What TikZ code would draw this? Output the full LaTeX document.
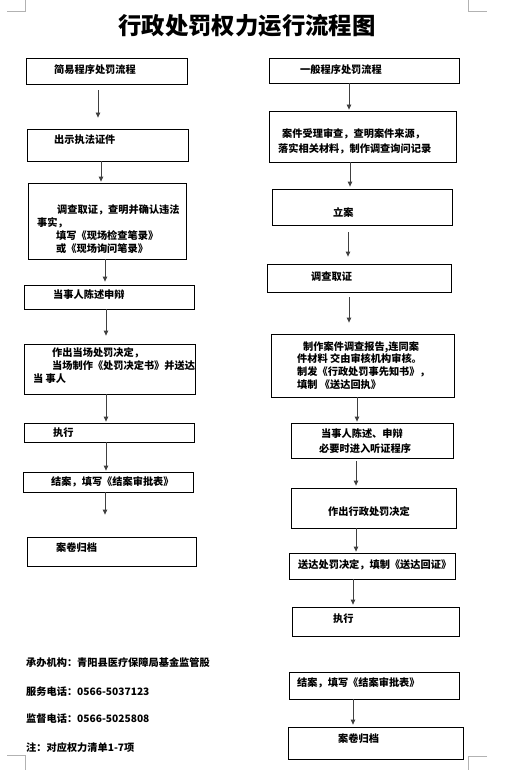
\documentclass[tikz,border=0pt]{standalone}
\usepackage{fontspec}
\setmainfont{Noto Sans CJK SC}
\usetikzlibrary{arrows.meta}
\begin{document}
\begin{tikzpicture}[x=1pt,y=-1pt,
  box/.style={draw=black,line width=0.8pt,inner sep=0pt,minimum width=#1},
  txt/.style={anchor=west,inner sep=0pt,font=\fontsize{10.2}{12}\selectfont\bfseries},
  arr/.style={draw=black!75,line width=0.8pt,-{Triangle[width=4.5pt,length=5pt]}},
  cornermark/.style={draw=black!30,line width=0.5pt}]
\useasboundingbox (0,0) rectangle (509,770);
\fill[white] (0,0) rectangle (509,770);
\newcommand\mybox[5]{\node[box=#4,minimum height=#5] (#1) at (#2,#3) {};}
\newcommand\conn[5]{\coordinate (tmp) at (#3,0);
  \draw[arr,shorten <=#4pt,shorten >=#5pt] (#1.south -| tmp) -- (#2.north -| tmp);}
% corner marks
\draw[cornermark] (25,0) -- (25,11) -- (7,11);
\draw[cornermark] (468,0) -- (468,11) -- (487,11);
\draw[cornermark] (7,755) -- (25,755) -- (25,770);
\draw[cornermark] (487,756) -- (468,756) -- (468,770);
% title
\node[inner sep=0pt,font=\fontsize{23.4}{26}\selectfont\bfseries] (title) at (247,26) {行政处罚权力运行流程图};
% left column
\mybox{L1}{106.5}{71}{161}{26}
\mybox{L2}{107.5}{145}{161}{32}
\mybox{L3}{107}{221}{158}{76}
\mybox{L4}{109}{297}{170}{24}
\mybox{L5}{109.5}{369}{171}{50}
\mybox{L6}{109}{432.5}{170}{19}
\mybox{L7}{108}{482}{170}{20}
\mybox{L8}{111.5}{551.5}{169}{29}
\node[txt] (t1) at (54,70) {简易程序处罚流程};
\node[txt] (t2) at (54,140) {出示执法证件};
\node[txt] (t3a) at (57,210) {调查取证，查明并确认违法};
\node[txt] (t3b) at (37,223) {事实，};
\node[txt] (t3c) at (56,236) {填写《现场检查笔录》};
\node[txt] (t3d) at (56,249) {或《现场询问笔录》};
\node[txt] (t4) at (53,295) {当事人陈述申辩};
\node[txt] (t5a) at (52,353) {作出当场处罚决定，};
\node[txt] (t5b) at (52,366) {当场制作《处罚决定书》并送达};
\node[txt] (t5c) at (33,379) {当 事人};
\node[txt] (t6) at (53,433) {执行};
\node[txt] (t7) at (51,482) {结案，填写《结案审批表》};
\node[txt] (t8) at (56,548) {案卷归档};
\conn{L1}{L2}{98}{6}{11}
\conn{L2}{L3}{101}{0}{1}
\conn{L3}{L4}{105}{0}{3}
\conn{L4}{L5}{106}{0}{8}
\conn{L5}{L6}{106}{0}{1}
\conn{L6}{L7}{106}{0}{1}
\conn{L7}{L8}{105}{0}{22}
% right column
\mybox{R1}{364}{70.5}{190}{25}
\mybox{R2}{362.5}{136.5}{187}{51}
\mybox{R3}{362}{207}{180}{36}
\mybox{R4}{359}{278}{184}{28}
\mybox{R5}{362.5}{365.5}{183}{63}
\mybox{R6}{372}{440.5}{162}{35}
\mybox{R7}{373.5}{508}{165}{40}
\mybox{R8}{372}{566}{166}{26}
\mybox{R9}{375.5}{621.5}{167}{29}
\mybox{R10}{374}{685.5}{170}{27}
\mybox{R11}{375.5}{743}{175}{32}
\node[txt] (r1) at (300,70) {一般程序处罚流程};
\node[txt] (r2a) at (282,134) {案件受理审查，查明案件来源，};
\node[txt] (r2b) at (278,149) {落实相关材料，制作调查询问记录};
\node[txt] (r3) at (333,213) {立案};
\node[txt] (r4) at (311,277) {调查取证};
\node[txt] (r5a) at (303,347) {制作案件调查报告,连同案};
\node[txt] (r5b) at (297,359) {件材料 交由审核机构审核。};
\node[txt] (r5c) at (297,372) {制发《行政处罚事先知书》，};
\node[txt] (r5d) at (297,385) {填制 《送达回执》};
\node[txt] (r6a) at (321,434) {当事人陈述、申辩};
\node[txt] (r6b) at (319,449) {必要时进入听证程序};
\node[txt] (r7) at (328,512) {作出行政处罚决定};
\node[txt] (r8) at (298,565) {送达处罚决定，填制《送达回证》};
\node[txt] (r9) at (333,619) {执行};
\node[txt] (r10) at (297,683) {结案，填写《结案审批表》};
\node[txt] (r11) at (338,739) {案卷归档};
\conn{R1}{R2}{349}{0}{1}
\conn{R2}{R3}{350}{0}{2}
\conn{R3}{R4}{348}{7}{7}
\conn{R4}{R5}{349}{5}{11}
\conn{R5}{R6}{357}{0}{1}
\conn{R6}{R7}{356}{3}{2}
\conn{R7}{R8}{356}{0}{1}
\conn{R8}{R9}{353}{0}{2}
\conn{R10}{R11}{353}{0}{2}
% footer
\node[txt] (f1) at (26,663) {承办机构：青阳县医疗保障局基金监管股};
\node[txt] (f2) at (26,692) {服务电话：0566-5037123};
\node[txt] (f3) at (26,719) {监督电话：0566-5025808};
\node[txt] (f4) at (26,748) {注：对应权力清单1-7项};
\end{tikzpicture}
\end{document}
